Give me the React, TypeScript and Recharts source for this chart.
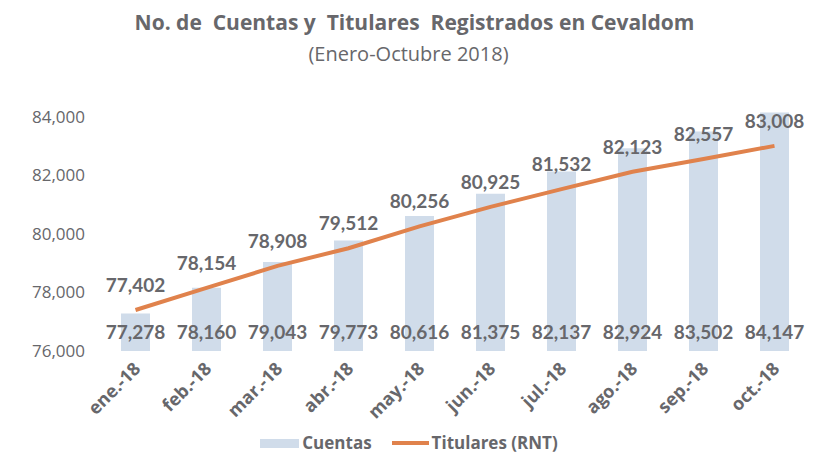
import { ComposedChart, Bar, Line, XAxis, YAxis, LabelList, Legend } from 'recharts'

const months = ['ene.-18', 'feb.-18', 'mar.-18', 'abr.-18', 'may.-18', 'jun.-18', 'jul.-18', 'ago.-18', 'sep.-18', 'oct.-18']
const cuentas = [77278, 78160, 79043, 79773, 80616, 81375, 82137, 82924, 83502, 84147]
const titulares = [77402, 78154, 78908, 79512, 80256, 80925, 81532, 82123, 82557, 83008]
const yTicks = [76000, 78000, 80000, 82000, 84000]

const GRAY = '#67676b'
const BAR = '#d0dcea'
const ORANGE = '#e0824c'
const FONT = 'Lato, "Open Sans", sans-serif'
const WIDE = '"Open Sans", Lato, sans-serif'

const data = months.map((m, i) => ({ month: m, cuentas: cuentas[i], titulares: titulares[i] }))
const fmt = (v: number) => v.toLocaleString('en-US')

function MonthTick({ x, y, payload }: any) {
  return (
    <g transform={`translate(${x + 6},${y + 11})`}>
      <text textAnchor="end" transform="rotate(-45)" fill={GRAY} fontSize={18} fontWeight={700} fontFamily={WIDE}>
        {payload.value}
      </text>
    </g>
  )
}

function LegendBox() {
  const txt = { fontFamily: WIDE, fontWeight: 700, fontSize: 17, color: GRAY, lineHeight: '20px' }
  return (
    <div style={{ display: 'flex', justifyContent: 'center', alignItems: 'center', paddingTop: 10, paddingLeft: 8 }}>
      <span style={{ display: 'inline-block', width: 39, height: 9, backgroundColor: BAR, marginRight: 3 }} />
      <span style={{ ...txt, marginRight: 20 }}>Cuentas</span>
      <span style={{ display: 'inline-block', width: 37, height: 4, backgroundColor: ORANGE, marginRight: 3 }} />
      <span style={txt}>Titulares (RNT)</span>
    </div>
  )
}

export default function App() {
  return (
    <div style={{ position: 'relative', width: 817, height: 456, background: '#fff' }}>
      <style>{`body{margin:0}`}</style>
      <div style={{ position: 'absolute', top: 8, left: 0, width: 817, textAlign: 'center', fontFamily: WIDE, color: GRAY }}>
        <div style={{ fontSize: 21, fontWeight: 700, whiteSpace: 'pre', lineHeight: '28px', paddingLeft: 12 }}>{'No. de  Cuentas y  Titulares  Registrados en Cevaldom'}</div>
        <div style={{ fontSize: 20, marginTop: 4 }}>(Enero-Octubre 2018)</div>
      </div>
      <div style={{ position: 'absolute', top: 0, left: 0 }}>
        <ComposedChart width={817} height={456} data={data} margin={{ top: 111, right: 7, bottom: 0, left: 0 }}>
          <XAxis dataKey="month" axisLine={false} tickLine={false} tick={<MonthTick />} interval={0} height={72} />
          <YAxis
            domain={[76000, 84200]}
            ticks={yTicks}
            axisLine={false}
            tickLine={false}
            tickSize={0}
            tickMargin={15}
            width={100}
            tickFormatter={fmt}
            tick={{ fill: GRAY, fontSize: 17, fontFamily: WIDE }}
          />
          <Legend verticalAlign="bottom" height={33} content={<LegendBox />} />
          <Bar dataKey="cuentas" fill={BAR} barSize={29} isAnimationActive={false}>
            <LabelList dataKey="cuentas" position="insideBottom" offset={12} formatter={fmt} fill={GRAY} fontSize={19} fontWeight={700} fontFamily={FONT} />
          </Bar>
          <Line dataKey="titulares" stroke={ORANGE} strokeWidth={4} dot={false} isAnimationActive={false}>
            <LabelList dataKey="titulares" position="top" offset={18} formatter={fmt} fill={GRAY} fontSize={19} fontWeight={700} fontFamily={FONT} />
          </Line>
        </ComposedChart>
      </div>
    </div>
  )
}
